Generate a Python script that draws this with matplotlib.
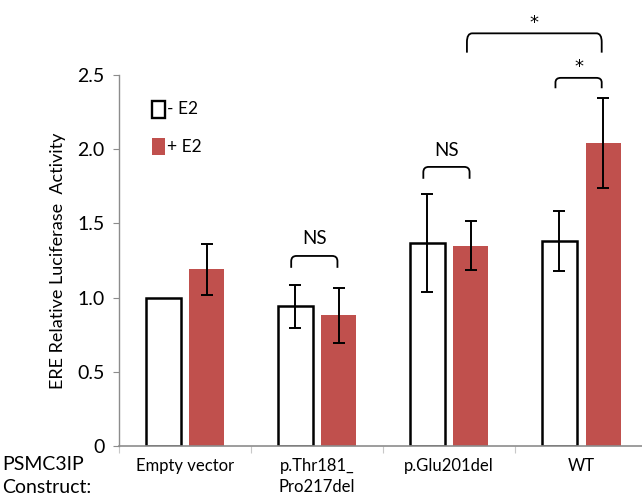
import matplotlib
matplotlib.use("Agg")
import matplotlib.pyplot as plt
import numpy as np
from matplotlib.path import Path
from matplotlib.patches import PathPatch, Rectangle

plt.rcParams['font.family'] = ['Lato', 'DejaVu Sans']

categories = ["Empty vector", "p.Thr181_\nPro217del", "p.Glu201del", "WT"]
minus_e2 = [1.00, 0.94, 1.37, 1.38]
minus_err = [0.0, 0.145, 0.33, 0.20]
plus_e2 = [1.19, 0.88, 1.35, 2.04]
plus_err = [0.17, 0.185, 0.166, 0.305]
yticks = [0, 0.5, 1.0, 1.5, 2.0, 2.5]
ytick_labels = ["0", "0.5", "1.0", "1.5", "2.0", "2.5"]
# significance brackets: (group_a, series_a, group_b, series_b, leg_bottom, top, label, label_y)
brackets = [
    (1, 0, 1, 1, 1.20, 1.28, "NS", 1.40),
    (2, 0, 2, 1, 1.80, 1.88, "NS", 1.99),
    (3, 0, 3, 1, 2.41, 2.48, "*", 2.55),
    (2, 1, 3, 1, 2.65, 2.78, "*", 2.85),
]

red = "#C0504D"
grey = "#8C8C8C"

fig = plt.figure(figsize=(6.42, 4.96), dpi=100)
ax = fig.add_axes([0.185, 0.101, 0.815, 0.748])

x = np.arange(len(categories))
w = 0.265
off = 0.165
ax.bar(x - off, minus_e2, w, color="white", edgecolor="black", linewidth=1.8, zorder=2)
ax.bar(x + off, plus_e2, w, color=red, edgecolor="none", zorder=2)
for xi, v, e in zip(x - off, minus_e2, minus_err):
    if e > 0:
        ax.errorbar(xi, v, yerr=e, fmt="none", ecolor="black", elinewidth=1.4,
                    capsize=4, capthick=1.4, zorder=3)
ax.errorbar(x + off, plus_e2, yerr=plus_err, fmt="none", ecolor="black",
            elinewidth=1.4, capsize=4, capthick=1.4, zorder=3)

ax.set_xlim(-0.5, 3.46)
ax.set_ylim(0, 2.5)
ax.set_yticks(yticks)
ax.set_yticklabels(ytick_labels, fontsize=14)
ax.set_xticks(np.arange(-0.5, 3.5, 1.0), minor=False)
ax.set_xticklabels([])
ax.set_xticks(x, minor=True)
ax.set_xticklabels(categories, minor=True, fontsize=12, linespacing=1.35, va="top")
ax.tick_params(axis="x", which="major", length=5, color="#C8C8C8", direction="out")
ax.tick_params(axis="x", which="minor", length=0, pad=9)
ax.tick_params(axis="y", length=4, color=grey, pad=6)
for s in ["top", "right"]:
    ax.spines[s].set_visible(False)
ax.spines["left"].set_color(grey)
ax.spines["bottom"].set_color(grey)
ax.spines["left"].set_linewidth(1.0)
ax.spines["bottom"].set_linewidth(1.2)

ax.set_ylabel("ERE Relative Luciferase  Activity", fontsize=13, labelpad=8)
fig.text(0.004, 0.0645, "PSMC3IP", fontsize=14, ha="left", va="center")
fig.text(0.004, 0.018, "Construct:", fontsize=14, ha="left", va="center")

# legend
ax.add_patch(Rectangle((0.063, 0.885), 0.025, 0.045, transform=ax.transAxes,
                       facecolor="white", edgecolor="black", linewidth=1.7, clip_on=False))
ax.text(0.092, 0.907, "- E2", transform=ax.transAxes, fontsize=12.5, va="center")
ax.add_patch(Rectangle((0.063, 0.785), 0.025, 0.045, transform=ax.transAxes,
                       facecolor=red, edgecolor="none", clip_on=False))
ax.text(0.092, 0.807, "+ E2", transform=ax.transAxes, fontsize=12.5, va="center")

def bx(g, s):
    return x[g] + (off if s == 1 else -off)

r = 0.04
for ga, sa, gb, sb, yb, yt, lab, ly in brackets:
    xa = bx(ga, sa) - 0.03
    xb = bx(gb, sb) - 0.01
    rh = (yt - yb) * 0.45
    verts = [(xa, yb), (xa, yt - rh), (xa, yt), (xa + r, yt),
             (xb - r, yt), (xb, yt), (xb, yt - rh), (xb, yb)]
    codes = [Path.MOVETO, Path.LINETO, Path.CURVE3, Path.CURVE3,
             Path.LINETO, Path.CURVE3, Path.CURVE3, Path.LINETO]
    ax.add_patch(PathPatch(Path(verts, codes), facecolor="none", edgecolor="black",
                           linewidth=1.3, clip_on=False))
    if lab == "*":
        ax.text((xa + xb) / 2, ly, lab, ha="center", va="center",
                fontsize=13, family="DejaVu Sans", clip_on=False)
    else:
        ax.text((xa + xb) / 2, ly, lab, ha="center", va="center",
                fontsize=13.5, clip_on=False)

fig.savefig("out.png", dpi=100)
